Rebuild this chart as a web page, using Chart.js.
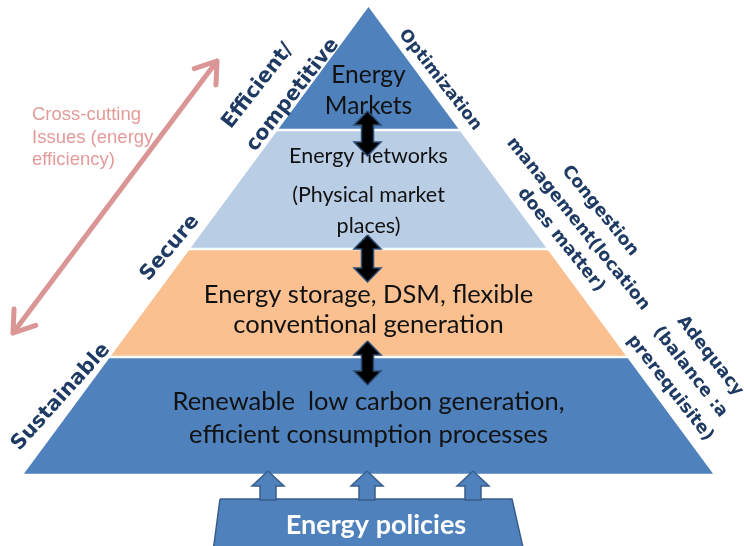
<!DOCTYPE html>
<html lang="en">
<head>
<meta charset="UTF-8">
<title>Energy pyramid</title>
<script src="https://cdn.jsdelivr.net/npm/chart.js"></script>
<style>
  html, body { margin: 0; padding: 0; background: #fff; }
  #wrap { width: 744px; height: 546px; }
</style>
</head>
<body>
<div id="wrap"><canvas id="chart" width="744" height="546"></canvas></div>
<script>
// pyramid levels, apex to base
const levelLines = [
    ['Energy', 'Markets'],
    ['Energy networks', '(Physical market', 'places)'],
    ['Energy storage, DSM, flexible', 'conventional generation'],
    ['Renewable  low carbon generation,', 'efficient consumption processes']
];
const levelBounds = [7, 130, 249, 357, 475];       // y of apex, layer joins, base
const levelColors = ['#4F81BD', '#B9CDE5', '#FAC090', '#4F81BD'];
const levelLineY = [[75, 106], [156, 195, 226], [295, 325], [402, 435]];

// side labels along the pyramid edges
const sideLabels = ['Efficient/', 'competitive', 'Secure', 'Sustainable',
    'Optimization', 'Congestion', 'management(location', 'does matter)',
    'Adequacy', '(balance :a', 'prerequisite)'];
const sideLayout = [
    [258, 86, -52, 20.5], [293, 95, -52, 20.5], [170, 248, -50, 20.5], [61, 397, -48, 20.5],
    [440, 80, 52, 17], [600, 211, 51, 17.5], [578, 224, 51, 17.5], [561, 240, 51, 17.5],
    [710, 356, 52, 17.5], [690, 372, 52, 17.5], [670, 388, 52, 17.5]
];

const crossLines = ['Cross-cutting', 'Issues (energy', 'efficiency)'];
const crossArrow = [[13, 333], [217, 61]];

const linkArrows = [[111, 156], [235, 282], [341, 385]];   // black double arrows between levels
const policyArrowX = [268, 367, 473];
const policyLabel = 'Energy policies';

const apexX = 368.5;
const baseHalf = 345.5;
const slope = baseHalf / (levelBounds[4] - levelBounds[0]);
const gap = 2.5;

function halfAt(y) { return (y - levelBounds[0]) * slope; }

function closed(pts) {
    return pts.concat([pts[0]]).map(p => ({ x: p[0], y: p[1] }));
}

function shape(pts, fill, border, bw) {
    return {
        data: closed(pts),
        showLine: true,
        fill: 'shape',
        backgroundColor: fill,
        borderColor: border || 'rgba(0,0,0,0)',
        borderWidth: bw || 0,
        pointRadius: 0,
        pointHoverRadius: 0,
        tension: 0
    };
}

function doubleArrow(cx, top, bottom) {
    const hw = 13.5, sw = 6, hl = 14;
    return [[cx, top], [cx + hw, top + hl], [cx + sw, top + hl], [cx + sw, bottom - hl],
        [cx + hw, bottom - hl], [cx, bottom], [cx - hw, bottom - hl], [cx - sw, bottom - hl],
        [cx - sw, top + hl], [cx - hw, top + hl]];
}

function upArrow(cx) {
    const tip = 471, base = 486, end = 500, hw = 16, sw = 8;
    return [[cx, tip], [cx + hw, base], [cx + sw, base], [cx + sw, end],
        [cx - sw, end], [cx - sw, base], [cx - hw, base]];
}

const datasets = [];
datasets.push(shape([[220, 499], [512, 499], [524, 552], [213, 552]], '#4F81BD', '#385D8A', 1.5));
levelColors.forEach((c, i) => {
    const top = i === 0 ? levelBounds[0] : levelBounds[i] + gap / 2;
    const bot = levelBounds[i + 1] - gap / 2;
    const pts = i === 0
        ? [[apexX, top], [apexX + halfAt(bot), bot], [apexX - halfAt(bot), bot]]
        : [[apexX - halfAt(top), top], [apexX + halfAt(top), top],
           [apexX + halfAt(bot), bot], [apexX - halfAt(bot), bot]];
    datasets.push(shape(pts, c));
});
const lastLevel = datasets.length - 1;
linkArrows.forEach(a => datasets.push(shape(doubleArrow(apexX - 1, a[0], a[1]), '#000', '#2C4D75', 1.5)));
policyArrowX.forEach(x => datasets.push(shape(upArrow(x), '#4F81BD', '#385D8A', 1.5)));
datasets.forEach((d, i) => { d.order = datasets.length - i; });

const textPlugin = {
    id: 'pyramidText',
    afterDatasetDraw(chart, args) {
        if (args.index !== lastLevel) return;
        const ctx = chart.ctx, sx = chart.scales.x, sy = chart.scales.y;
        ctx.save();
        ctx.fillStyle = '#111';
        ctx.textAlign = 'center';
        ctx.textBaseline = 'middle';
        const sizes = [24.5, 21.5, 25.5, 25.5];
        levelLines.forEach((lines, i) => {
            ctx.font = sizes[i] + 'px Lato';
            lines.forEach((t, j) => ctx.fillText(t, sx.getPixelForValue(apexX), sy.getPixelForValue(levelLineY[i][j])));
        });
        ctx.restore();
    },
    afterDatasetsDraw(chart) {
        const ctx = chart.ctx, sx = chart.scales.x, sy = chart.scales.y;
        ctx.save();
        ctx.textAlign = 'center';
        ctx.textBaseline = 'middle';
        ctx.fillStyle = '#1F3B63';
        sideLabels.forEach((t, i) => {
            const [x, y, a, s] = sideLayout[i];
            ctx.save();
            ctx.translate(sx.getPixelForValue(x), sy.getPixelForValue(y));
            ctx.rotate(a * Math.PI / 180);
            ctx.font = 'bold ' + s + 'px "DejaVu Sans"';
            ctx.fillText(t, 0, 0);
            ctx.restore();
        });

        // cross-cutting arrow
        const p0 = [sx.getPixelForValue(crossArrow[0][0]), sy.getPixelForValue(crossArrow[0][1])];
        const p1 = [sx.getPixelForValue(crossArrow[1][0]), sy.getPixelForValue(crossArrow[1][1])];
        ctx.strokeStyle = '#D99694';
        ctx.lineWidth = 5;
        ctx.lineCap = 'round';
        ctx.lineJoin = 'round';
        ctx.beginPath();
        ctx.moveTo(p0[0], p0[1]);
        ctx.lineTo(p1[0], p1[1]);
        [[p0, p1], [p1, p0]].forEach(([tip, from]) => {
            const ang = Math.atan2(from[1] - tip[1], from[0] - tip[0]);
            [-0.6, 0.6].forEach(d => {
                ctx.moveTo(tip[0], tip[1]);
                ctx.lineTo(tip[0] + 24 * Math.cos(ang + d), tip[1] + 24 * Math.sin(ang + d));
            });
        });
        ctx.stroke();

        ctx.fillStyle = '#E39A98';
        ctx.textAlign = 'left';
        ctx.font = '18.5px "Liberation Sans"';
        crossLines.forEach((t, i) => ctx.fillText(t, sx.getPixelForValue(32), sy.getPixelForValue(115 + i * 22.5)));

        ctx.fillStyle = '#fff';
        ctx.textAlign = 'center';
        ctx.font = 'bold 27px Lato';
        ctx.fillText(policyLabel, sx.getPixelForValue(376), sy.getPixelForValue(525));
        ctx.restore();
    }
};

new Chart(document.getElementById('chart'), {
    type: 'scatter',
    data: { datasets: datasets },
    options: {
        responsive: false,
        animation: false,
        events: [],
        layout: { padding: 0 },
        plugins: { legend: { display: false }, tooltip: { enabled: false } },
        scales: {
            x: { type: 'linear', min: 0, max: 744, display: false },
            y: { type: 'linear', min: 0, max: 546, reverse: true, display: false }
        }
    },
    plugins: [textPlugin]
});
</script>
</body>
</html>
